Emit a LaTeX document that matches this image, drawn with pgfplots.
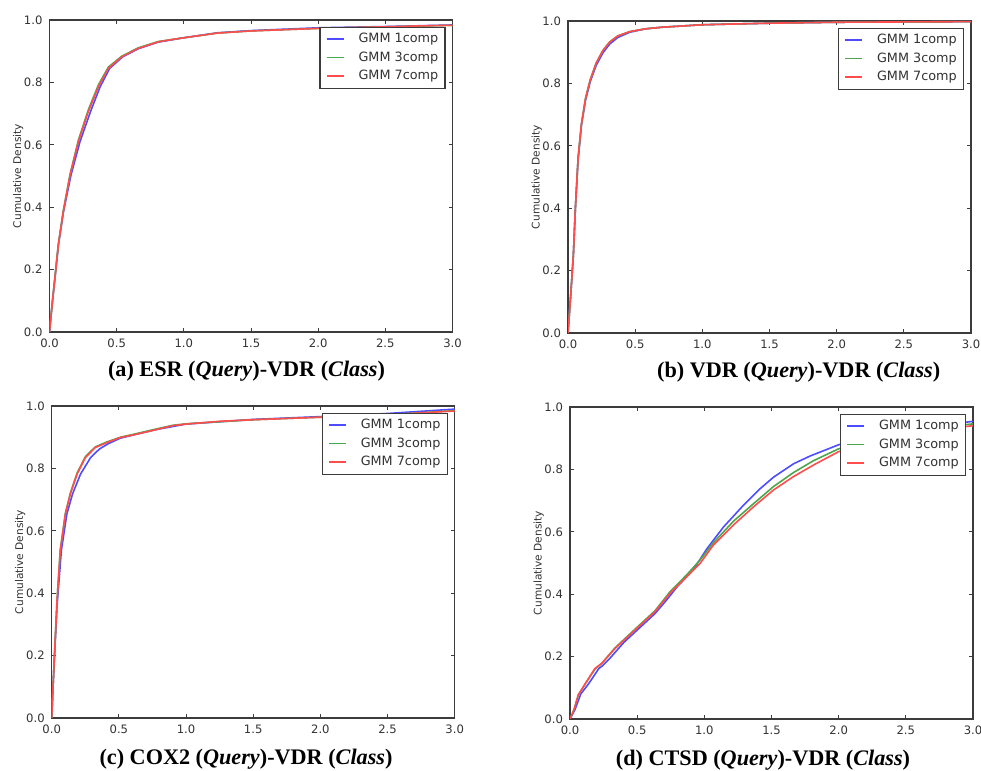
\documentclass[border=0pt]{standalone}
\usepackage{fontspec}
\setmainfont{Liberation Serif}
\newfontfamily\dejavu{DejaVu Sans}
\usepackage{pgfplots}
\pgfplotsset{compat=1.18}
\definecolor{c1}{RGB}{77,77,255}
\definecolor{c3}{RGB}{77,166,77}
\definecolor{c7}{RGB}{255,77,77}
\definecolor{frame}{RGB}{60,60,60}

\pgfplotsset{cdf/.style={
  width=201.5pt,height=156pt,scale only axis,anchor=south west,
  xmin=0,xmax=3,ymin=0,ymax=1,
  xtick={0,0.5,1,1.5,2,2.5,3},ytick={0,0.2,0.4,0.6,0.8,1},
  /pgf/number format/assume math mode=true,
  /pgf/number format/fixed,/pgf/number format/fixed zerofill,
  /pgf/number format/precision=1,
  tick label style={font=\dejavu\fontsize{5.8}{6}\selectfont,text=black!80},
  major tick length=2pt,tick style={frame,line width=0.5pt},
  axis line style={frame,line width=0.6pt},
  ylabel={Cumulative Density},
  ylabel style={font=\dejavu\fontsize{5.3}{6}\selectfont,text=black!80,
    at={(axis description cs:0,0.5)},anchor=center,yshift=15.7pt},
  legend style={at={(0.983,0.979)},anchor=north east,draw=frame,line width=0.6pt,
    font=\dejavu\fontsize{6.4}{7}\selectfont,text=black!80,
    cells={anchor=west},row sep=2.45pt,inner xsep=2.9pt,inner ysep=2.6pt,
    nodes={inner sep=0.5pt,text height=4.6pt,text depth=1.2pt},
    /tikz/every odd column/.append style={column sep=6.6pt}},
  legend image code/.code={\draw[#1,line width=0.8pt] (2.1pt,0pt) -- (10.6pt,0pt);},
  every axis plot/.append style={line width=0.8pt,no marks},
}}

\begin{document}
\begin{tikzpicture}
\useasboundingbox (0,0) rectangle (490.5pt,385.5pt);

% (a)
\begin{axis}[cdf,at={(24.75pt,219.5pt)}]
\addplot[c1] coordinates {(0,0)(0.02,0.09)(0.04,0.17)(0.066,0.277)(0.103,0.383)(0.16,0.503)
  (0.227,0.61)(0.305,0.706)(0.377,0.786)(0.448,0.845)(0.545,0.882)(0.662,0.908)(0.81,0.929)
  (1.0,0.943)(1.25,0.959)(1.5,0.966)(2.0,0.975)(2.5,0.979)(3.0,0.984)};
\addplot[c3] coordinates {(0,0)(0.02,0.09)(0.04,0.175)(0.066,0.283)(0.103,0.39)(0.153,0.505)
  (0.215,0.615)(0.289,0.712)(0.364,0.792)(0.438,0.849)(0.538,0.884)(0.662,0.911)(0.81,0.931)
  (1.0,0.943)(1.25,0.958)(1.5,0.965)(2.0,0.973)(2.5,0.978)(3.0,0.983)};
\addplot[c7] coordinates {(0,0)(0.02,0.09)(0.04,0.17)(0.066,0.279)(0.103,0.386)(0.153,0.503)
  (0.215,0.61)(0.289,0.706)(0.364,0.786)(0.438,0.845)(0.538,0.882)(0.662,0.909)(0.81,0.930)
  (0.935,0.939)(1.0,0.943)(1.25,0.958)(1.5,0.965)(1.75,0.969)(2.0,0.973)(2.25,0.976)
  (2.5,0.978)(2.75,0.981)(3.0,0.983)};
\legend{GMM 1comp,GMM 3comp,GMM 7comp}
\end{axis}

% (b)
\begin{axis}[cdf,at={(284pt,219pt)}]
\addplot[c1] coordinates {(0,0)(0.02,0.12)(0.04,0.25)(0.055,0.40)(0.075,0.555)(0.1,0.665)
  (0.13,0.745)(0.165,0.805)(0.21,0.858)(0.26,0.898)(0.31,0.926)(0.37,0.947)(0.46,0.964)
  (0.58,0.975)(0.7,0.98)(1.0,0.988)(1.5,0.993)(2.0,0.996)(2.5,0.997)(3.0,0.998)};
\addplot[c3] coordinates {(0,0)(0.02,0.12)(0.04,0.25)(0.055,0.40)(0.075,0.56)(0.1,0.67)
  (0.13,0.752)(0.165,0.812)(0.21,0.866)(0.26,0.906)(0.31,0.933)(0.37,0.952)(0.46,0.966)
  (0.58,0.975)(0.7,0.98)(1.0,0.988)(1.5,0.993)(2.0,0.996)(2.5,0.997)(3.0,0.998)};
\addplot[c7] coordinates {(0,0)(0.02,0.12)(0.04,0.25)(0.055,0.40)(0.075,0.56)(0.1,0.67)
  (0.13,0.75)(0.165,0.81)(0.21,0.865)(0.26,0.905)(0.31,0.932)(0.37,0.952)(0.46,0.966)
  (0.58,0.975)(0.7,0.98)(1.0,0.988)(1.5,0.993)(2.0,0.996)(2.5,0.997)(3.0,0.998)};
\legend{GMM 1comp,GMM 3comp,GMM 7comp}
\end{axis}

% (c)
\begin{axis}[cdf,at={(25.85pt,26.5pt)}]
\addplot[c1] coordinates {(0,0)(0.01,0.1)(0.02,0.19)(0.04,0.36)(0.072,0.537)(0.113,0.654)
  (0.155,0.718)(0.215,0.782)(0.29,0.835)(0.355,0.862)(0.42,0.879)(0.512,0.897)(0.636,0.910)
  (0.785,0.925)(1.0,0.942)(1.5,0.957)(2.0,0.966)(2.5,0.976)(3.0,0.99)};
\addplot[c3] coordinates {(0,0)(0.01,0.1)(0.02,0.198)(0.04,0.38)(0.064,0.54)(0.102,0.657)
  (0.139,0.721)(0.189,0.785)(0.251,0.838)(0.325,0.869)(0.412,0.885)(0.512,0.9)(0.636,0.912)
  (0.785,0.927)(0.9,0.938)(1.0,0.943)(1.5,0.956)(2.0,0.964)(2.5,0.972)(3.0,0.985)};
\addplot[c7] coordinates {(0,0)(0.01,0.1)(0.02,0.196)(0.04,0.377)(0.064,0.537)(0.102,0.654)
  (0.139,0.718)(0.189,0.782)(0.251,0.835)(0.325,0.867)(0.412,0.883)(0.512,0.899)(0.636,0.910)
  (0.785,0.925)(0.9,0.937)(1.0,0.942)(1.25,0.951)(1.5,0.956)(1.75,0.960)(2.0,0.964)
  (2.25,0.967)(2.5,0.972)(2.75,0.978)(3.0,0.984)};
\legend{GMM 1comp,GMM 3comp,GMM 7comp}
\end{axis}

% (d)
\begin{axis}[cdf,at={(285pt,26pt)}]
\addplot[c1] coordinates {(0,0)(0.037,0.03)(0.08,0.08)(0.137,0.112)(0.215,0.162)(0.24,0.17)
  (0.3,0.196)(0.4,0.245)(0.5,0.285)(0.633,0.338)(0.72,0.382)(0.8,0.425)(0.919,0.479)
  (1.018,0.545)(1.142,0.615)(1.291,0.685)(1.415,0.738)(1.515,0.775)(1.664,0.818)(1.788,0.843)
  (1.9,0.862)(2.0,0.879)(2.25,0.905)(2.5,0.925)(2.75,0.941)(3.0,0.954)};
\addplot[c3] coordinates {(0,0)(0.03,0.03)(0.062,0.078)(0.124,0.12)(0.186,0.16)(0.236,0.178)
  (0.335,0.228)(0.497,0.293)(0.633,0.347)(0.745,0.408)(0.869,0.462)(0.969,0.51)(1.068,0.565)
  (1.217,0.634)(1.366,0.69)(1.515,0.745)(1.664,0.79)(1.813,0.828)(2.0,0.866)(2.25,0.897)
  (2.5,0.918)(2.75,0.934)(3.0,0.946)};
\addplot[c7] coordinates {(0,0)(0.03,0.03)(0.062,0.077)(0.124,0.12)(0.186,0.162)(0.236,0.178)
  (0.335,0.226)(0.497,0.29)(0.633,0.344)(0.745,0.403)(0.869,0.456)(0.969,0.499)(1.068,0.558)
  (1.217,0.622)(1.366,0.68)(1.515,0.734)(1.664,0.777)(1.813,0.814)(2.0,0.857)(2.25,0.89)
  (2.5,0.912)(2.75,0.928)(3.0,0.94)};
\legend{GMM 1comp,GMM 3comp,GMM 7comp}
\end{axis}

\begin{scope}[every node/.style={anchor=base,font=\bfseries\fontsize{11.1}{12}\selectfont}]
\node at (123.25pt,197pt) {(a) ESR (\textit{Query})-VDR (\textit{Class})};
\node at (399.35pt,196.5pt) {(b) VDR (\textit{Query})-VDR (\textit{Class})};
\node at (123pt,3pt) {(c) COX2 (\textit{Query})-VDR (\textit{Class})};
\node at (381.5pt,2.5pt) {(d) CTSD (\textit{Query})-VDR (\textit{Class})};
\end{scope}
\end{tikzpicture}
\end{document}
